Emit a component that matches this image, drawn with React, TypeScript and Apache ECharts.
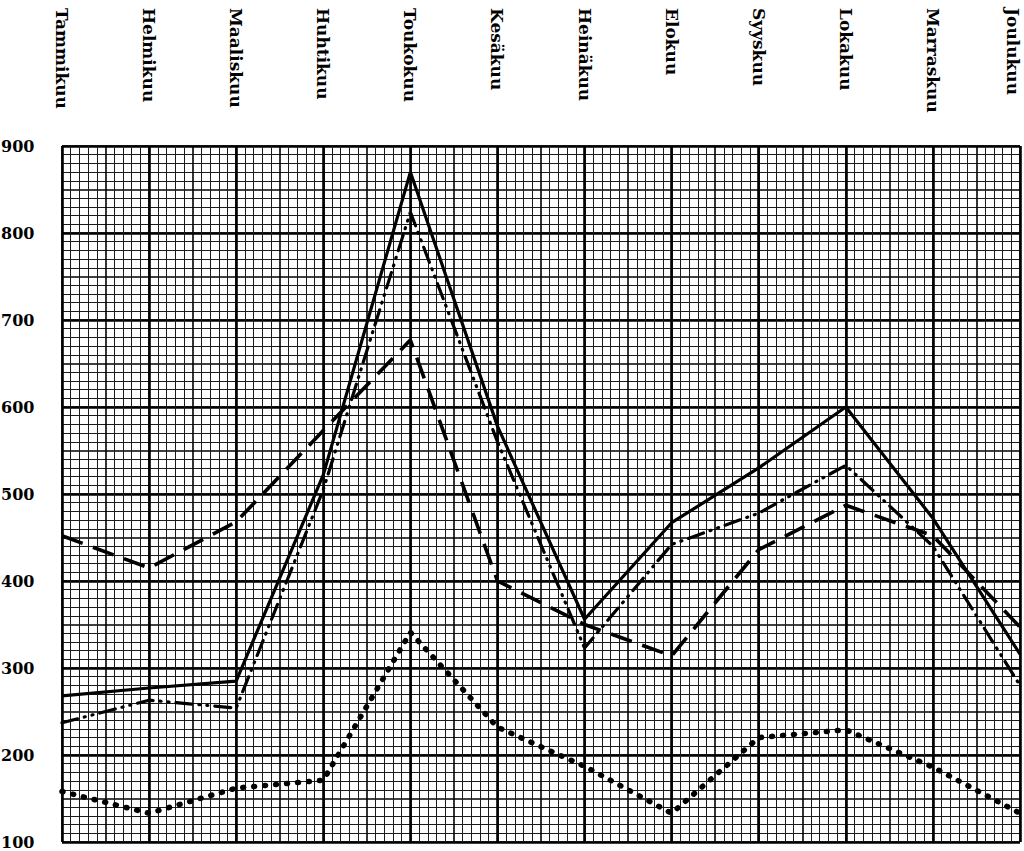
import React, { useEffect, useRef } from "react";
import * as echarts from "echarts";

const months = [
  "Tammikuu", "Helmikuu", "Maaliskuu", "Huhtikuu", "Toukokuu", "Kesäkuu",
  "Heinäkuu", "Elokuu", "Syyskuu", "Lokakuu", "Marraskuu", "Joulukuu",
];

const yTicks = [100, 200, 300, 400, 500, 600, 700, 800, 900];

const solidSeries = [268, 277, 285, 522, 870, 578, 356, 467, 530, 600, 472, 316];
const dashDotSeries = [237, 263, 254, 505, 824, 560, 323, 442, 478, 533, 440, 280];
const dashedSeries = [452, 415, 468, 573, 677, 400, 350, 314, 436, 487, 452, 347];
const dottedSeries = [158, 133, 162, 171, 341, 232, 187, 133, 220, 229, 186, 133];

const FONT = "DejaVu Serif";

function toPairs(values: number[]) {
  return values.map((v, i) => [i, v]);
}

export default function App() {
  const ref = useRef<HTMLDivElement>(null);

  useEffect(() => {
    if (!ref.current) return;
    const chart = echarts.init(ref.current, undefined, { renderer: "svg" });

    const line = (name: string, values: number[], style: any) => ({
      name,
      type: "line",
      xAxisIndex: 1,
      yAxisIndex: 1,
      data: toPairs(values),
      showSymbol: false,
      symbol: "none",
      silent: true,
      z: 5,
      lineStyle: { color: "#000", ...style },
    });

    chart.setOption({
      animation: false,
      backgroundColor: "#fff",
      grid: {
        left: 62, right: 4, top: 146, bottom: 9,
        containLabel: false, outerBoundsMode: "none",
      },
      xAxis: [
        {
          type: "value",
          min: 0,
          max: 11,
          interval: 0.5,
          position: "top",
          axisLine: { show: false },
          axisTick: { show: false },
          axisLabel: { show: false },
          splitLine: { show: true, lineStyle: { color: "#000", width: 1.6 } },
          minorTick: { show: false, splitNumber: 5 },
          minorSplitLine: { show: true, lineStyle: { color: "#1a1a1a", width: 1 } },
        },
        {
          type: "value",
          min: 0,
          max: 11,
          interval: 1,
          position: "top",
          axisLine: { show: false },
          axisTick: { show: false },
          axisLabel: {
            show: true,
            rotate: 90,
            align: "left",
            verticalAlign: "middle",
            margin: 138,
            formatter: (v: number) => {
              const i = Math.round(v);
              const name = months[i] ?? "";
              return i === months.length - 1 ? "{last|" + name + "}" : name;
            },
            rich: {
              last: {
                fontFamily: FONT,
                fontWeight: "bold",
                fontSize: 17,
                color: "#000",
                padding: [14, 0, 0, 0],
              },
            },
            fontFamily: FONT,
            fontWeight: "bold",
            fontSize: 17,
            color: "#000",
          },
          splitLine: { show: true, lineStyle: { color: "#000", width: 2.6 } },
        },
      ],
      yAxis: [
        {
          type: "value",
          min: 100,
          max: 900,
          interval: 50,
          position: "left",
          axisLine: { show: false },
          axisTick: { show: false },
          axisLabel: { show: false },
          splitLine: { show: true, lineStyle: { color: "#000", width: 1.6 } },
          minorTick: { show: false, splitNumber: 5 },
          minorSplitLine: { show: true, lineStyle: { color: "#1a1a1a", width: 1 } },
        },
        {
          type: "value",
          min: yTicks[0],
          max: yTicks[yTicks.length - 1],
          interval: 100,
          position: "left",
          axisLine: { show: false },
          axisTick: { show: false },
          axisLabel: {
            show: true,
            align: "left",
            margin: 61,
            fontFamily: FONT,
            fontWeight: "bold",
            fontSize: 16,
            color: "#000",
          },
          splitLine: { show: true, lineStyle: { color: "#000", width: 2.6 } },
        },
      ],
      series: [
        line("solid", solidSeries, { width: 3.2, type: "solid" }),
        line("dashdot", dashDotSeries, { width: 3.2, type: [16, 7, 1, 7, 1, 7], cap: "round" }),
        line("dashed", dashedSeries, { width: 3.6, type: [22, 11] }),
        line("dotted", dottedSeries, { width: 5.5, type: [1, 10], cap: "round" }),
      ],
    });

    return () => chart.dispose();
  }, []);

  return (
    <div
      ref={ref}
      style={{ position: "fixed", left: 0, top: 0, width: 1024, height: 851, background: "#fff" }}
    />
  );
}
